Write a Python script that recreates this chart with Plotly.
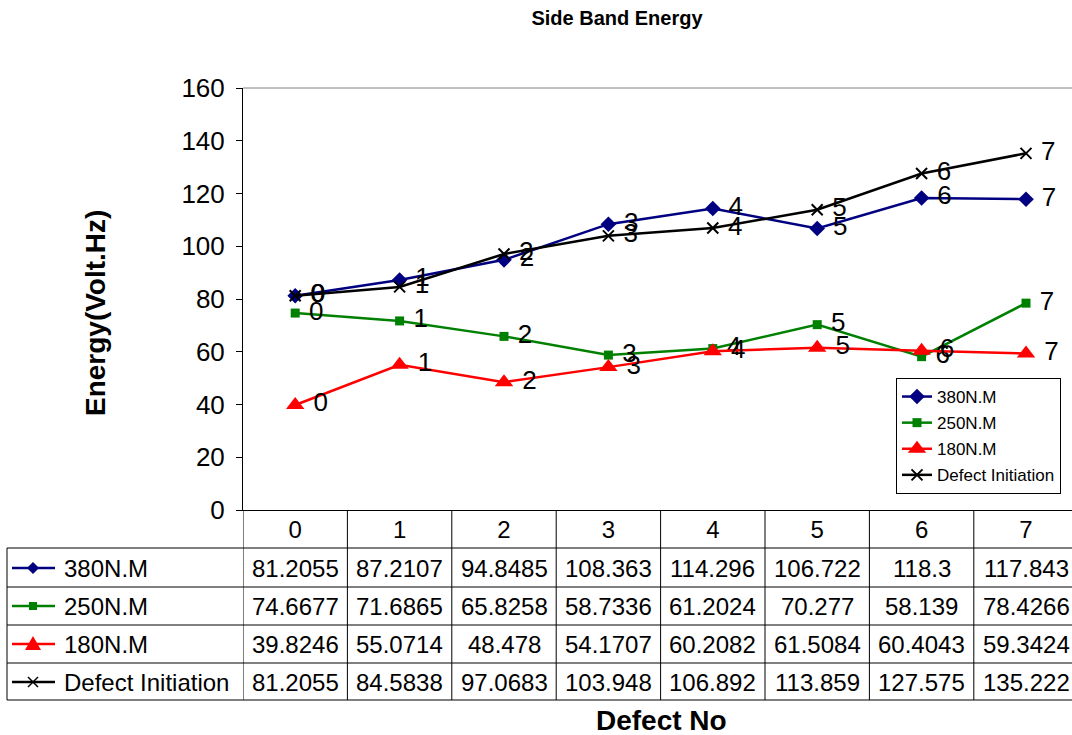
import plotly.graph_objects as go

categories = [0, 1, 2, 3, 4, 5, 6, 7]
series_names = ["380N.M", "250N.M", "180N.M", "Defect Initiation"]
s380 = [81.2055, 87.2107, 94.8485, 108.363, 114.296, 106.722, 118.3, 117.843]
s250 = [74.6677, 71.6865, 65.8258, 58.7336, 61.2024, 70.277, 58.139, 78.4266]
s180 = [39.8246, 55.0714, 48.478, 54.1707, 60.2082, 61.5084, 60.4043, 59.3424]
sdef = [81.2055, 84.5838, 97.0683, 103.948, 106.892, 113.859, 127.575, 135.222]
y_ticks = [0, 20, 40, 60, 80, 100, 120, 140, 160]

FONT = "Liberation Sans, Arial, sans-serif"
W, H = 1072, 735
PL, PT, PB, PR = 243, 88, 510, 1072
PW, PH = PR - PL, PB - PT


def px(x):
    return (x - PL) / PW


def py(y):
    return (PB - y) / PH


styles = [
    dict(color="#000080", symbol="diamond", size=12),
    dict(color="#008000", symbol="square", size=9),
    dict(color="#FF0000", symbol="triangle-up", size=16),
    dict(color="#000000", symbol="x-thin", size=11),
]
all_series = [s380, s250, s180, sdef]

fig = go.Figure()
for i, (name, vals, st) in enumerate(zip(series_names, all_series, styles)):
    marker = dict(color=st["color"], symbol=st["symbol"], size=st["size"])
    if st["symbol"] == "x-thin":
        marker["line"] = dict(color=st["color"], width=2)
    fig.add_trace(go.Scatter(
        x=categories, y=vals, name=name, mode="lines+markers+text",
        line=dict(color=st["color"], width=2.5),
        marker=marker,
        text=[str(c) for c in categories], textposition="middle right",
        texttemplate=" %{text}",
        textfont=dict(size=26, color="black", family=FONT),
        legendgroup=f"g{i}", cliponaxis=False,
    ))

shapes = []
# top border of plot area
shapes.append(dict(type="line", xref="paper", yref="paper", x0=0, x1=1, y0=1, y1=1,
                   line=dict(color="#808080", width=1)))
# data table horizontal lines
for yy in [548, 587, 625, 663, 700]:
    shapes.append(dict(type="line", xref="paper", yref="paper", x0=px(7), x1=1.01,
                       y0=py(yy), y1=py(yy), line=dict(color="black", width=1)))
# left border of row labels
shapes.append(dict(type="line", xref="paper", yref="paper", x0=px(7), x1=px(7),
                   y0=py(548), y1=py(700), line=dict(color="black", width=1)))
# vertical lines of category columns
for i in range(len(categories)):
    shapes.append(dict(type="line", xref="x", yref="paper", x0=i - 0.5, x1=i - 0.5,
                       y0=py(510), y1=py(700), line=dict(color="black", width=1)))

annotations = []
row_centers = [568, 606, 644, 682]
for r, (name, vals, st) in enumerate(zip(series_names, all_series, styles)):
    yc = row_centers[r]
    # legend key line
    shapes.append(dict(type="line", xref="paper", yref="paper", x0=px(12), x1=px(55),
                       y0=py(yc), y1=py(yc), line=dict(color=st["color"], width=2.5)))
    annotations.append(dict(x=px(62), y=py(yc), xref="paper", yref="paper", text=name,
                            showarrow=False, xanchor="left", yanchor="middle",
                            font=dict(size=24, family=FONT, color="black")))
    for c, v in zip(categories, vals):
        annotations.append(dict(x=c, y=py(yc), xref="x", yref="paper", text=str(v),
                                showarrow=False, xanchor="center", yanchor="middle",
                                font=dict(size=24, family=FONT, color="black")))

# key markers in the table (shape paths, pixel-based)
def path_from_px(points):
    return "M " + " L ".join(f"{px(a)},{py(b)}" for a, b in points) + " Z"

cx = 33
yc = row_centers[0]
shapes.append(dict(type="path", xref="paper", yref="paper",
                   path=path_from_px([(cx, yc - 6), (cx + 6, yc), (cx, yc + 6), (cx - 6, yc)]),
                   fillcolor="#000080", line=dict(color="#000080", width=0)))
yc = row_centers[1]
shapes.append(dict(type="path", xref="paper", yref="paper",
                   path=path_from_px([(cx - 4, yc - 4), (cx + 4, yc - 4), (cx + 4, yc + 4), (cx - 4, yc + 4)]),
                   fillcolor="#008000", line=dict(color="#008000", width=0)))
yc = row_centers[2]
shapes.append(dict(type="path", xref="paper", yref="paper",
                   path=path_from_px([(cx, yc - 8), (cx + 8, yc + 6), (cx - 8, yc + 6)]),
                   fillcolor="#FF0000", line=dict(color="#FF0000", width=0)))
yc = row_centers[3]
for (a, b, c2, d) in [(cx - 5, yc - 5, cx + 5, yc + 5), (cx - 5, yc + 5, cx + 5, yc - 5)]:
    shapes.append(dict(type="line", xref="paper", yref="paper", x0=px(a), y0=py(b),
                       x1=px(c2), y1=py(d), line=dict(color="black", width=1.5)))

# axis titles
annotations.append(dict(x=px(95), y=py(313), xref="paper", yref="paper",
                        text="<b>Energy(Volt.Hz)</b>", textangle=-90, showarrow=False,
                        xanchor="center", yanchor="middle",
                        font=dict(size=28, family=FONT, color="black")))
annotations.append(dict(x=px(661), y=py(720), xref="paper", yref="paper",
                        text="<b>Defect No</b>", showarrow=False,
                        xanchor="center", yanchor="middle",
                        font=dict(size=28, family=FONT, color="black")))

fig.update_layout(
    width=W, height=H,
    margin=dict(l=PL, r=W - PR, t=PT, b=H - PB),
    paper_bgcolor="white", plot_bgcolor="white",
    font=dict(family=FONT, color="black"),
    title=dict(text="<b>Side Band Energy</b>", x=617 / W, y=1 - 18 / H,
               xanchor="center", yanchor="middle",
               font=dict(size=20, family=FONT, color="black")),
    xaxis=dict(range=[-0.5, (PR - PL) / 104.4 - 0.5], tickvals=categories,
               ticktext=[str(c) for c in categories], ticks="", showgrid=False,
               zeroline=False, showline=True, linecolor="black", linewidth=1,
               ticklabelstandoff=-2,
               tickfont=dict(size=24, family=FONT, color="black")),
    yaxis=dict(range=[0, 160], tickvals=y_ticks, ticks="outside", ticklen=6,
               tickcolor="black", showgrid=False, zeroline=False, showline=True,
               linecolor="black", linewidth=1, ticklabelstandoff=6,
               tickfont=dict(size=26, family=FONT, color="black")),
    legend=dict(x=px(896), y=py(378), xanchor="left", yanchor="top",
                bordercolor="black", borderwidth=1, bgcolor="white",
                font=dict(size=17, family=FONT, color="black"),
                traceorder="grouped", tracegroupgap=1),
    shapes=shapes, annotations=annotations,
)

fig.write_html("out.html", config={"displayModeBar": False},
               post_script="document.body.style.margin='0';document.body.style.overflow='hidden';")
